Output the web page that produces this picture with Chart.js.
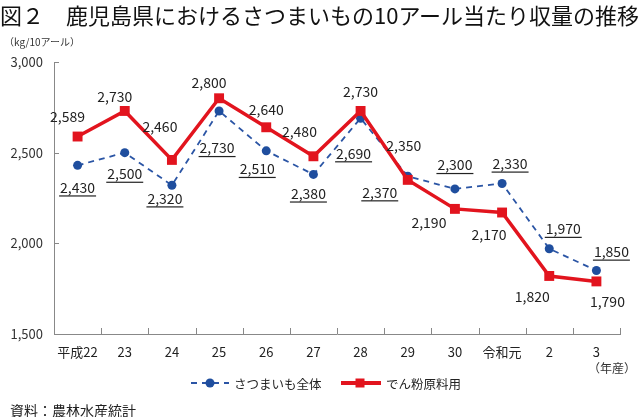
<!DOCTYPE html>
<html>
<head>
<meta charset="utf-8">
<script src="https://cdn.jsdelivr.net/npm/chart.js@4"></script>
<style>
body { margin: 0; background: #fff; font-family: "Noto Sans CJK JP", sans-serif; color: #111; }
#wrap { position: relative; width: 640px; height: 417px; overflow: hidden; }
canvas { position: absolute; left: 0; top: 0; }
.t { position: absolute; white-space: nowrap; line-height: 1; }
.leg { position: absolute; top: 375px; height: 16px; display: flex; align-items: center; font-size: 12.5px; color: #222; }
.leg svg { margin-right: 4px; }
</style>
</head>
<body>
<div id="wrap">
  <canvas id="c" width="640" height="417"></canvas>
  <div class="t" style="left:0;top:3px;font-size:22px;color:#111">図２　鹿児島県におけるさつまいもの10アール当たり収量の推移</div>
  <div class="t" style="left:4px;top:37px;font-size:10px;color:#333">（kg/10アール）</div>
  <div class="t" style="left:588px;top:362px;font-size:12px;color:#333">（年産）</div>
  <div class="leg" style="left:190px">
    <svg width="40" height="12"><line x1="1" y1="6" x2="39" y2="6" stroke="#2b55a5" stroke-width="2" stroke-dasharray="6,5"/><circle cx="20" cy="6" r="4.5" fill="#1f4e9e"/></svg>
    <span>さつまいも全体</span>
  </div>
  <div class="leg" style="left:340px">
    <svg width="42" height="12"><line x1="1" y1="6" x2="41" y2="6" stroke="#e2141e" stroke-width="4"/><rect x="15.5" y="1.5" width="9" height="9" fill="#e2141e"/></svg>
    <span>でん粉原料用</span>
  </div>
  <div class="t" style="left:10px;top:403px;font-size:14px;color:#222">資料：農林水産統計</div>
</div>
<script>
const years = ['平成22', '23', '24', '25', '26', '27', '28', '29', '30', '令和元', '2', '3'];
const totalYield = [2430, 2500, 2320, 2730, 2510, 2380, 2690, 2370, 2300, 2330, 1970, 1850];
const starchYield = [2589, 2730, 2460, 2800, 2640, 2480, 2730, 2350, 2190, 2170, 1820, 1790];
const yTicks = [1500, 2000, 2500, 3000];

// label offsets from each point (px)
const totalLabelPos = [[0,22],[0,21],[-7,13],[-2,37],[-9,18],[-5,19],[-7,35],[-28,16],[0,-24],[8,-20],[14,-20],[15,-19]];
const starchLabelPos = [[-10,-20],[-10,-14],[-12,-33],[-10,-16],[0,-18],[-14,-25],[0,-19],[-4,-34],[-26,14],[-13,22],[-17,21],[11,20]];

const fmt = v => v.toLocaleString('en-US');

const insideTicks = {
    id: 'insideTicks',
    afterDraw(chart) {
        const ctx = chart.ctx;
        const area = chart.chartArea;
        const x = chart.scales.x, y = chart.scales.y;
        ctx.save();
        ctx.strokeStyle = '#888';
        ctx.lineWidth = 1;
        ctx.beginPath();
        yTicks.slice(1).forEach(v => {
            const py = Math.round(y.getPixelForValue(v)) + 0.5;
            ctx.moveTo(area.left, py);
            ctx.lineTo(area.left + 5, py);
        });
        for (let i = 1; i <= years.length; i++) {
            const px = i < years.length
                ? (x.getPixelForValue(i - 1) + x.getPixelForValue(i)) / 2
                : area.right;
            ctx.moveTo(Math.round(px) + 0.5, area.bottom);
            ctx.lineTo(Math.round(px) + 0.5, area.bottom - 6);
        }
        ctx.stroke();
        ctx.restore();
    }
};

const dataLabels = {
    id: 'dataLabels',
    afterDatasetsDraw(chart) {
        const ctx = chart.ctx;
        ctx.save();
        ctx.font = '14px "Noto Sans CJK JP", sans-serif';
        ctx.textAlign = 'center';
        ctx.textBaseline = 'middle';
        ctx.fillStyle = '#222';
        chart.data.datasets.forEach((ds, di) => {
            const meta = chart.getDatasetMeta(di);
            const offs = ds.labelPos;
            meta.data.forEach((pt, i) => {
                const txt = fmt(ds.data[i]);
                const lx = pt.x + offs[i][0], ly = pt.y + offs[i][1];
                ctx.fillText(txt, lx, ly);
                if (ds.underline) {
                    const w = ctx.measureText(txt).width;
                    ctx.fillRect(lx - w / 2 - 1, ly + 8, w + 2, 1.2);
                }
            });
        });
        ctx.restore();
    }
};

new Chart(document.getElementById('c').getContext('2d'), {
    type: 'line',
    data: {
        labels: years,
        datasets: [
            {
                label: 'でん粉原料用',
                data: starchYield,
                labelPos: starchLabelPos,
                underline: false,
                borderColor: '#e2141e',
                backgroundColor: '#e2141e',
                borderWidth: 3.5,
                pointStyle: 'rect',
                pointRadius: 7,
                pointBorderWidth: 0,
                tension: 0
            },
            {
                label: 'さつまいも全体',
                data: totalYield,
                labelPos: totalLabelPos,
                underline: true,
                borderColor: '#2b55a5',
                backgroundColor: '#1f4e9e',
                borderWidth: 1.8,
                borderDash: [6, 5],
                pointStyle: 'circle',
                pointRadius: 4.5,
                pointBorderWidth: 0,
                tension: 0
            }
        ]
    },
    options: {
        responsive: false,
        animation: false,
        layout: { padding: { left: 0, right: 20, top: 62, bottom: 0 } },
        scales: {
            x: {
                offset: true,
                grid: { display: true, drawOnChartArea: false, drawTicks: false },
                border: { color: '#888', width: 1 },
                ticks: { color: '#222', font: { size: 13, family: '"Noto Sans CJK JP"' }, padding: 10, maxRotation: 0, autoSkip: false },
                afterFit: s => { s.height = 83; }
            },
            y: {
                min: 1500,
                max: 3000,
                afterBuildTicks: s => { s.ticks = yTicks.map(v => ({ value: v })); },
                grid: { display: true, drawOnChartArea: false, drawTicks: false },
                border: { color: '#888', width: 1 },
                ticks: { color: '#333', font: { size: 13, family: '"Noto Sans CJK JP"' }, padding: 11, callback: v => fmt(v) },
                afterFit: s => { s.width = 54; }
            }
        },
        plugins: { legend: { display: false }, tooltip: { enabled: false } }
    },
    plugins: [insideTicks, dataLabels]
});
</script>
</body>
</html>
